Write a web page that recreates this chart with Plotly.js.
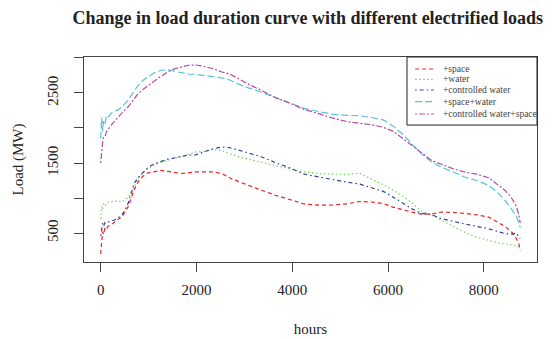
<!DOCTYPE html>
<html>
<head>
<meta charset="utf-8">
<script src="https://cdn.plot.ly/plotly-3.0.1.min.js"></script>
<style>html,body{margin:0;padding:0;background:#fff;}#chart{width:553px;height:339px;}</style>
</head>
<body>
<div id="chart"></div>
<script>
const hours = [0, 20, 40, 60, 90, 120, 160, 220, 290, 360, 450, 570, 700, 780, 880, 990, 1120, 1260, 1400, 1540, 1680, 1820, 1980, 2130, 2330, 2530, 2700, 2900, 3100, 3350, 3650, 3950, 4250, 4550, 4850, 5150, 5400, 5650, 5900, 6100, 6300, 6500, 6700, 6900, 7100, 7350, 7600, 7850, 8100, 8300, 8450, 8580, 8680, 8730, 8760];

const space = [200, 420, 520, 480, 580, 560, 600, 620, 660, 690, 740, 870, 1120, 1230, 1310, 1360, 1380, 1395, 1380, 1365, 1350, 1360, 1372, 1372, 1372, 1350, 1285, 1230, 1175, 1112, 1040, 975, 915, 897, 900, 918, 950, 943, 922, 870, 830, 798, 770, 768, 798, 795, 780, 760, 728, 655, 590, 514, 420, 350, 250];

const water = [700, 880, 840, 920, 890, 930, 940, 950, 960, 955, 945, 1010, 1160, 1280, 1360, 1420, 1475, 1510, 1538, 1565, 1590, 1625, 1655, 1665, 1690, 1680, 1630, 1585, 1552, 1515, 1455, 1415, 1372, 1350, 1340, 1338, 1355, 1278, 1190, 1115, 1030, 930, 810, 760, 690, 600, 510, 440, 393, 360, 345, 335, 320, 300, 270];

const controlledWater = [460, 560, 640, 600, 650, 640, 660, 670, 685, 715, 760, 920, 1210, 1290, 1365, 1440, 1490, 1528, 1555, 1572, 1595, 1612, 1615, 1652, 1700, 1728, 1718, 1680, 1640, 1590, 1505, 1430, 1340, 1300, 1256, 1225, 1200, 1150, 1095, 1015, 935, 845, 780, 765, 708, 665, 630, 595, 560, 520, 490, 485, 500, 440, 420];

const spaceWater = [1850, 2150, 1950, 2100, 2050, 2180, 2160, 2210, 2240, 2255, 2310, 2395, 2530, 2610, 2680, 2730, 2790, 2825, 2830, 2810, 2785, 2770, 2767, 2753, 2743, 2715, 2685, 2620, 2570, 2515, 2433, 2355, 2280, 2235, 2195, 2180, 2175, 2150, 2115, 2030, 1915, 1770, 1630, 1520, 1445, 1375, 1300, 1250, 1180, 1070, 960, 840, 740, 650, 580];

const controlledWaterSpace = [1500, 1700, 1800, 1870, 1880, 1950, 1990, 2040, 2100, 2157, 2220, 2300, 2420, 2490, 2550, 2610, 2670, 2740, 2800, 2845, 2875, 2896, 2900, 2885, 2850, 2800, 2770, 2690, 2620, 2540, 2433, 2355, 2265, 2205, 2140, 2090, 2070, 2048, 2010, 1955, 1855, 1750, 1650, 1540, 1485, 1420, 1371, 1340, 1290, 1180, 1105, 1000, 880, 760, 640];

const seriesNames = ['+space', '+water', '+controlled water', '+space+water', '+controlled water+space'];
const seriesValues = [space, water, controlledWater, spaceWater, controlledWaterSpace];
const seriesColors = ['#ee2020', '#72d262', '#2e3f9e', '#56c3d8', '#b84aa8'];
const seriesDash = ['4px,3px', '1.5px,2.5px', '1.5px,3px,4px,3px', '7px,3px', '2px,2px,6px,2px'];

const xTicks = [0, 2000, 4000, 6000, 8000];
const yTicks = [500, 1000, 1500, 2000, 2500, 3000];
const yTickText = ['500', '', '1500', '', '2500', ''];

const traces = seriesValues.map((v, i) => ({
  x: hours, y: v, type: 'scatter', mode: 'lines', name: seriesNames[i], showlegend: false,
  line: {color: seriesColors[i], dash: seriesDash[i], width: 1.2}
}));

// Manual legend (compact like the reference); positions in paper units
const legX0 = 0.713, legX1 = 1.0, legY0 = 0.668, legY1 = 1.0;
const legRows = [0.9415, 0.891, 0.839, 0.782, 0.722];
const shapes = [{type: 'rect', xref: 'paper', yref: 'paper', x0: legX0, x1: legX1, y0: legY0, y1: legY1,
                 line: {color: '#222', width: 1}, fillcolor: '#fff', layer: 'above'}];
const annotations = [];
seriesNames.forEach((n, i) => {
  shapes.push({type: 'line', xref: 'paper', yref: 'paper', x0: 0.731, x1: 0.772, y0: legRows[i], y1: legRows[i],
               line: {color: seriesColors[i], dash: seriesDash[i], width: 1.2}, layer: 'above'});
  annotations.push({xref: 'paper', yref: 'paper', x: 0.788, y: legRows[i], xanchor: 'left', yanchor: 'middle',
                    text: n, showarrow: false, font: {family: 'Liberation Serif, serif', size: 9.5, color: '#444'}});
});

const serif = 'Liberation Serif, Times New Roman, serif';
const layout = {
  width: 553, height: 339,
  margin: {l: 84, r: 16, t: 57, b: 77},
  paper_bgcolor: '#fff', plot_bgcolor: '#fff',
  font: {family: serif, size: 15, color: '#222'},
  title: {text: '<b>Change in load duration curve with different electrified loads</b>',
          font: {family: serif, size: 18, color: '#222'},
          x: 0.494, xref: 'paper', xanchor: 'center', y: 0.947, yref: 'container', yanchor: 'middle'},
  xaxis: {range: [-349, 9110], tickvals: xTicks, ticktext: xTicks.map(String),
          showgrid: false, zeroline: false, showline: true, mirror: true, linecolor: '#444', linewidth: 1,
          ticks: 'outside', ticklen: 9, tickcolor: '#444', ticklabelstandoff: 5,
          title: {text: 'hours', font: {family: serif, size: 15}, standoff: 26}},
  yaxis: {range: [86, 3014], tickvals: yTicks, ticktext: yTickText, tickangle: -90,
          showgrid: false, zeroline: false, showline: true, mirror: true, linecolor: '#444', linewidth: 1,
          ticks: 'outside', ticklen: 9, tickcolor: '#444', ticklabelstandoff: 10,
          title: {text: 'Load (MW)', font: {family: serif, size: 15}, standoff: 17}},
  shapes: shapes,
  annotations: annotations,
  showlegend: false
};

Plotly.newPlot('chart', traces, layout, {displayModeBar: false, staticPlot: true});
</script>
</body>
</html>
